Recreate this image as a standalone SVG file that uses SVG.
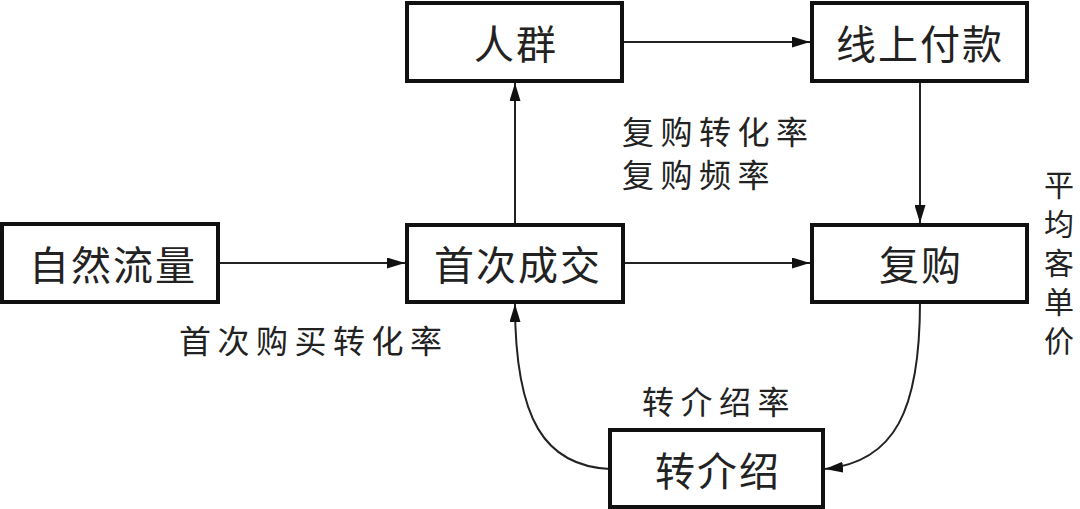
<svg xmlns="http://www.w3.org/2000/svg" width="1080" height="509" viewBox="0 0 1080 509">
<defs>
<style>
.box{fill:#fff;stroke:#111;stroke-width:4}
.lbl{font-family:"Noto Sans CJK SC","Noto Sans",sans-serif;font-size:40px;fill:#222;text-anchor:middle;dominant-baseline:central;letter-spacing:2px}
.note{font-family:"Noto Sans CJK SC","Noto Sans",sans-serif;font-size:32px;fill:#222;dominant-baseline:central;letter-spacing:6.5px}
.vnote{font-family:"Noto Sans CJK SC","Noto Sans",sans-serif;font-size:30px;fill:#222;writing-mode:vertical-rl;letter-spacing:9px}
.con{fill:none;stroke:#222;stroke-width:2}
</style>
<marker id="arr" viewBox="0 0 18 11" refX="18" refY="5.5" markerWidth="18" markerHeight="11" markerUnits="userSpaceOnUse" orient="auto">
<path d="M0,0 L18,5.5 L0,11 Z" fill="#111"/>
</marker>
</defs>
<rect width="1080" height="509" fill="#fff"/>
<g id="connectors">
<line class="con" x1="218" y1="263" x2="405" y2="263" marker-end="url(#arr)"/>
<line class="con" x1="622" y1="42" x2="810" y2="42" marker-end="url(#arr)"/>
<line class="con" x1="515" y1="224" x2="515" y2="83" marker-end="url(#arr)"/>
<line class="con" x1="920" y1="81" x2="920" y2="223" marker-end="url(#arr)"/>
<line class="con" x1="623" y1="263" x2="810" y2="263" marker-end="url(#arr)"/>
<path class="con" d="M920,302 C920,410 895,462 825,469" marker-end="url(#arr)"/>
<path class="con" d="M610,469 C545,466 515,420 515,304" marker-end="url(#arr)"/>
</g>
<g id="node-ziran"><rect class="box" x="2" y="224" width="216" height="78"/><text class="lbl" x="113" y="263">自然流量</text></g>
<g id="node-shouci"><rect class="box" x="407" y="225" width="216" height="77"/><text class="lbl" x="518" y="263">首次成交</text></g>
<g id="node-renqun"><rect class="box" x="407" y="3" width="215" height="78"/><text class="lbl" x="516" y="42">人群</text></g>
<g id="node-xianshang"><rect class="box" x="812" y="3" width="215" height="78"/><text class="lbl" x="920" y="42">线上付款</text></g>
<g id="node-fugou"><rect class="box" x="812" y="225" width="215" height="77"/><text class="lbl" x="921" y="263">复购</text></g>
<g id="node-zhuanjieshao"><rect class="box" x="610" y="430" width="213" height="77"/><text class="lbl" x="718" y="469">转介绍</text></g>
<g id="labels">
<text class="note" x="622" y="130">复购转化率</text>
<text class="note" x="622" y="173">复购频率</text>
<text class="note" x="179" y="339">首次购买转化率</text>
<text class="note" x="642" y="400">转介绍率</text>
<text class="vnote" x="1059" y="170">平均客单价</text>
</g>
</svg>
